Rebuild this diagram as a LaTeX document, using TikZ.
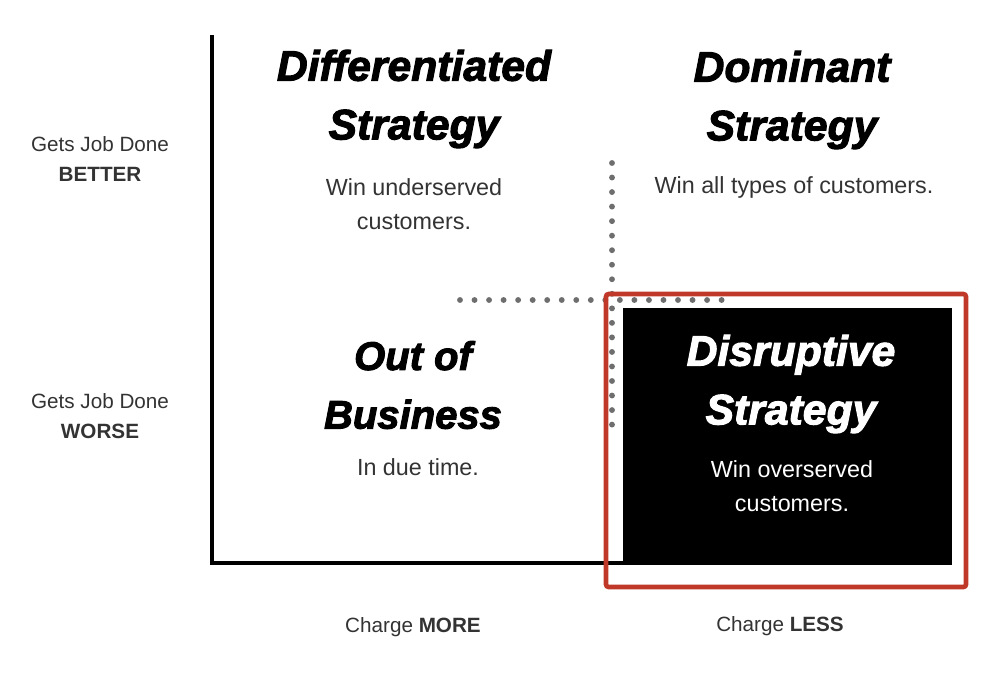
\documentclass[tikz,border=0pt]{standalone}
\usepackage{fontspec}
\setmainfont{Liberation Sans}
\newfontfamily\headfont{Liberation Sans Bold Italic}[FakeBold=2.4]
\usepackage{tikz}
\usetikzlibrary{positioning,calc}
\definecolor{txtgray}{HTML}{333333}
\definecolor{dotgray}{HTML}{6E6E6E}
\definecolor{boxred}{RGB}{192,57,40}

\begin{document}
\begin{tikzpicture}[
		x=0.75pt, y=-0.75pt,
		quadtitle/.style={font=\headfont\fontsize{32}{44}\selectfont, align=center, inner sep=0pt},
		quadtext/.style={font=\fontsize{17.5}{25}\selectfont, text=txtgray, align=center, inner sep=0pt},
		sidelabel/.style={font=\fontsize{15.5}{22}\selectfont, text=txtgray, align=center, inner sep=0pt},
		axisline/.style={line width=3.2pt, black},
		dotline/.style={line width=4.4pt, dotgray, line cap=round, dash pattern=on 0pt off 10.9pt}
	]

	\useasboundingbox (0,0) rectangle (988,672);

	% axes
	\coordinate (ytop) at (212,35);
	\coordinate (orig) at (212,563);
	\coordinate (xend) at (952,563);
	\draw[axisline] (ytop) -- (orig) -- (xend);

	% dotted quadrant lines
	\coordinate (vtop) at (612,163);
	\coordinate (vbot) at (612,432);
	\coordinate (hleft) at (460,300);
	\coordinate (hright) at (722,300);
	\draw[dotline] (vtop) -- (vbot);
	\draw[dotline] (hleft) -- (hright);

	% highlighted quadrant
	\coordinate (redtl) at (606,294);
	\coordinate (redbr) at (966,587);
	\coordinate (blktl) at (623,308);
	\coordinate (blkbr) at (952,565);
	\draw[boxred, line width=3.5pt, rounded corners=2pt] (redtl) rectangle (redbr);
	\fill[black] (blktl) rectangle (blkbr);

	% quadrants
	\node[quadtitle] (diff) at (414,99) {Differentiated\\Strategy};
	\node[quadtext] (difftext) at (414,204) {Win underserved\\customers.};

	\node[quadtitle] (dom) at (792,100) {Dominant\\Strategy};
	\node[quadtext] (domtext) at (794,187) {Win all types of customers.};

	\node[quadtitle, font=\headfont\fontsize{30}{44}\selectfont] (outb) at (413,385) {Out of\\Business};
	\node[quadtext] (outbtext) at (418,467) {In due time.};

	\node[quadtitle, text=white] (disr) at (791,384) {Disruptive\\Strategy};
	\node[quadtext, text=white] (disrtext) at (792,486) {Win overserved\\customers.};

	% axis labels
	\node[sidelabel] (better) at (100,159) {Gets Job Done\\\textbf{BETTER}};
	\node[sidelabel] (worse) at (100,416) {Gets Job Done\\\textbf{WORSE}};
	\node[sidelabel] (more) at (413,627) {Charge \textbf{MORE}};
	\node[sidelabel] (less) at (780,626) {Charge \textbf{LESS}};

\end{tikzpicture}
\end{document}
